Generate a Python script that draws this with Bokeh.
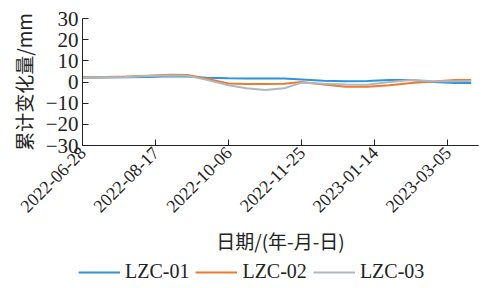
import datetime as dt
from math import pi
from bokeh.plotting import figure
from bokeh.layouts import column
from bokeh.models import FixedTicker, DatetimeTickFormatter, Range1d, Legend, LegendItem
from bokeh.embed import file_html
from bokeh.resources import INLINE

start = dt.datetime(2022, 6, 28)
day_offsets = [0, 15, 30, 45, 60, 72, 85, 100, 112, 125, 138, 150, 165, 180, 195, 210, 225, 240, 255, 266]
dates = [start + dt.timedelta(days=d) for d in day_offsets]

lzc01 = [2.0, 2.1, 2.2, 2.4, 2.7, 2.6, 2.0, 1.8, 1.7, 1.7, 1.6, 1.2, 0.6, 0.4, 0.5, 0.9, 1.0, 0.0, -0.5, -0.5]
lzc02 = [2.2, 2.4, 2.6, 3.0, 3.4, 3.3, 1.5, -0.7, -1.0, -1.0, -0.8, 0.0, -1.2, -2.2, -2.3, -1.5, -0.5, 0.2, 1.0, 1.0]
lzc03 = [2.0, 2.2, 2.4, 2.8, 3.1, 3.0, 1.0, -1.5, -3.0, -3.8, -3.0, -0.3, -0.8, -1.2, -1.3, 0.0, 1.0, 0.3, 0.4, 0.5]

series_names = ["LZC-01", "LZC-02", "LZC-03"]
series_colors = ["#2C94DA", "#EE7A30", "#AEB8BE"]

tick_dates = ["2022-06-28", "2022-08-17", "2022-10-06", "2022-11-25", "2023-01-14", "2023-03-05"]
y_ticks = [-30, -20, -10, 0, 10, 20, 30]

serif = "'Liberation Serif'"
cjk = "'Noto Sans CJK SC'"

def ms(d):
    return (d - dt.datetime(1970, 1, 1)).total_seconds() * 1000.0

x_start = ms(start)
x_end = ms(start + dt.timedelta(days=271))

p = figure(frame_width=396, frame_height=127, x_axis_type="datetime", output_backend="svg",
           toolbar_location=None, min_border_left=82, min_border_right=3,
           min_border_top=18, min_border_bottom=113)
p.x_range = Range1d(x_start, x_end)
p.y_range = Range1d(-30, 30)
p.outline_line_color = None
p.grid.visible = False

for vals, col in zip([lzc01, lzc02, lzc03], series_colors):
    p.line(dates, vals, line_color=col, line_width=2)

xa = p.xaxis[0]
xa.ticker = FixedTicker(ticks=[ms(dt.datetime.strptime(t, "%Y-%m-%d")) for t in tick_dates])
fmt = "%Y-%m-%d"
xa.formatter = DatetimeTickFormatter(days=fmt, months=fmt, years=fmt, hours=fmt,
                                     minutes=fmt, seconds=fmt, milliseconds=fmt,
                                     microseconds=fmt, hourmin=fmt, minsec=fmt)
xa.major_label_orientation = pi / 4
xa.axis_label = "日期/(年-月-日)"

ya = p.yaxis[0]
ya.ticker = FixedTicker(ticks=y_ticks)
ya.axis_label = "累计变化量/mm"

for ax in (xa, ya):
    ax.axis_line_color = "#222222"
    ax.major_tick_line_color = "#222222"
    ax.major_tick_in = 6
    ax.major_tick_out = 0
    ax.minor_tick_line_color = None
    ax.major_label_text_font = serif
    ax.major_label_text_color = "#222222"
    ax.axis_label_text_font = cjk
    ax.axis_label_text_font_style = "normal"
    ax.axis_label_text_font_size = "19px"
    ax.axis_label_text_color = "#222222"
    ax.major_label_standoff = 4

xa.major_label_text_font_size = "18px"
ya.major_label_text_font_size = "21px"
xa.axis_label_standoff = 6
ya.axis_label_standoff = 6

# legend strip below the chart
lf = figure(frame_width=481, frame_height=26, x_axis_type="datetime", output_backend="svg",
            toolbar_location=None, min_border_left=0, min_border_right=0,
            min_border_top=0, min_border_bottom=0,
            x_axis_location=None, y_axis_location=None)
lf.x_range = Range1d(x_start, x_end)
lf.y_range = Range1d(100, 101)
lf.outline_line_color = None
lf.grid.visible = False
items = []
for vals, col, name in zip([lzc01, lzc02, lzc03], series_colors, series_names):
    r = lf.line(dates, vals, line_color=col, line_width=2)
    items.append(LegendItem(label=name, renderers=[r]))

legend = Legend(items=items, orientation="horizontal", location=(78, 1),
                label_text_font=serif, label_text_font_size="20px",
                label_text_color="#222222", glyph_width=42, glyph_height=16,
                spacing=6, padding=0, margin=0, border_line_color=None,
                label_standoff=5, background_fill_alpha=0)
lf.add_layout(legend, "center")

layout = column(p, lf, spacing=0)
open("out.html", "w").write(file_html(layout, INLINE))
